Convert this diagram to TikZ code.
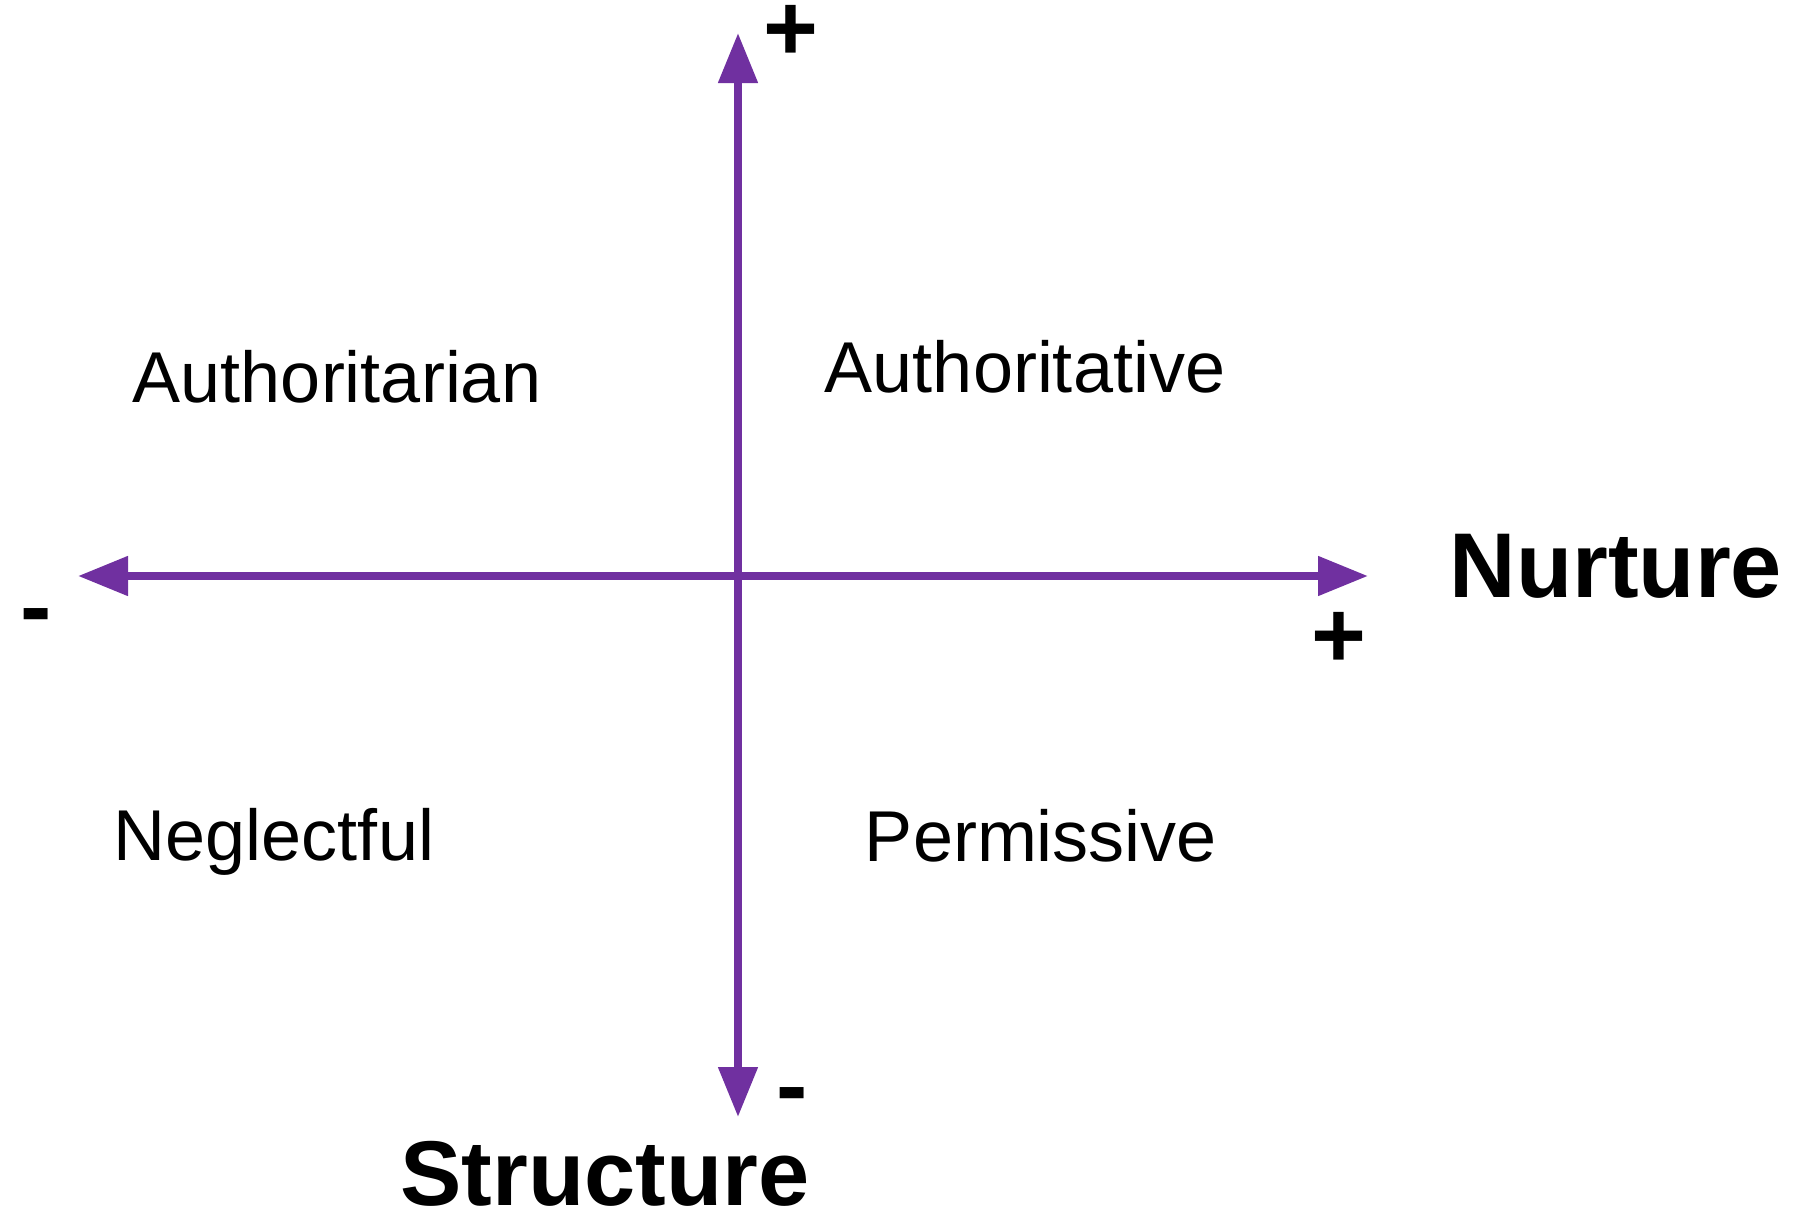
\documentclass[tikz,border=0pt]{standalone}
\usepackage{xcolor}
\usepackage{fontspec}
\setmainfont{Liberation Sans}
\usetikzlibrary{arrows.meta}
\definecolor{axispurple}{HTML}{7030A0}

\begin{document}
\begin{tikzpicture}[x=1pt,y=-1pt,
    axis/.style={draw=axispurple,line width=8pt,{Triangle[length=50pt,width=38pt]}-{Triangle[length=50pt,width=38pt]}},
    quadrant/.style={anchor=base,inner sep=0pt,font=\fontsize{72}{80}\selectfont},
    axislabel/.style={anchor=base,inner sep=0pt,font=\fontsize{92}{100}\selectfont\bfseries},
    sign/.style={anchor=center,inner sep=0pt,font=\fontsize{94}{100}\selectfont\bfseries}]
    \useasboundingbox (0,0) rectangle (1794,1218);
    \coordinate (top) at (738,33);
    \coordinate (bottom) at (738,1117);
    \coordinate (left) at (78,576);
    \coordinate (right) at (1368,576);
    \path[axis] (left) -- (right);
    \path[axis] (bottom) -- (top);
    \node[sign] (plustop) at (791,33) {+};
    \node[sign] (minusleft) at (36,624) {-};
    \node[sign] (plusright) at (1339,640) {+};
    \node[sign] (minusbottom) at (792,1103) {-};
    \node[axislabel] (nurture) at (1616,597) {Nurture};
    \node[axislabel] (structure) at (605,1205) {Structure};
    \node[quadrant] (q1) at (337,402) {Authoritarian};
    \node[quadrant] (q2) at (1025,392) {Authoritative};
    \node[quadrant] (q3) at (274,860) {Neglectful};
    \node[quadrant] (q4) at (1041,861) {Permissive};
\end{tikzpicture}
\end{document}
